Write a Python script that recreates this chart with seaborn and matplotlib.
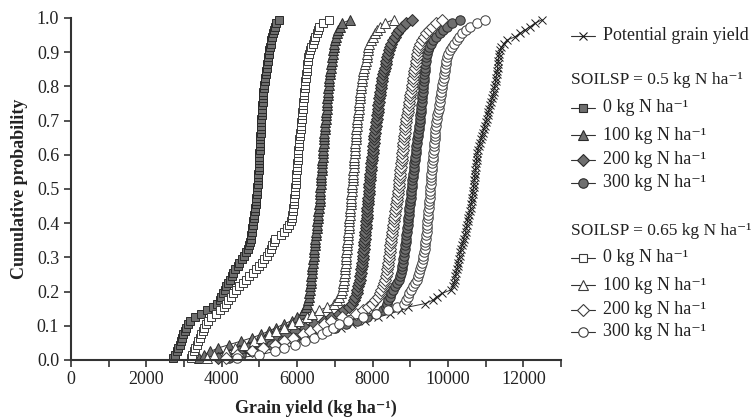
import numpy as np
import pandas as pd
import matplotlib
matplotlib.use("Agg")
import matplotlib.pyplot as plt
from matplotlib.lines import Line2D
from matplotlib.ticker import MultipleLocator, FormatStrFormatter
import seaborn as sns

sns.set_theme(style="ticks")
plt.rcParams['font.family'] = ['Liberation Serif', 'DejaVu Serif']

# ---- data: simulated grain yields (kg/ha), sorted, one value per ranked year ----
potential = [4000, 4350, 4700, 5050, 5400, 5750, 6100, 6450, 6800, 7150,
             7450, 7800, 8150, 8450, 8750, 8950, 9400, 9600, 9700, 9850,
             10080, 10130, 10160, 10180, 10200, 10220, 10240, 10260, 10275, 10290,
             10310, 10330, 10350, 10375, 10400, 10425, 10450, 10470, 10490, 10505,
             10520, 10540, 10560, 10580, 10600, 10615, 10630, 10645, 10660, 10670,
             10680, 10690, 10700, 10710, 10720, 10730, 10740, 10750, 10760, 10770,
             10780, 10800, 10825, 10850, 10875, 10900, 10925, 10950, 10975, 11000,
             11025, 11050, 11075, 11100, 11125, 11150, 11175, 11195, 11215, 11235,
             11250, 11265, 11280, 11295, 11310, 11320, 11330, 11340, 11350, 11360,
             11380, 11420, 11480, 11560, 11780, 11900, 12050, 12180, 12320, 12500]

s05_n0 = [2700, 2760, 2800, 2830, 2880, 2920, 2950, 2980, 3020, 3060,
          3100, 3150, 3290, 3450, 3620, 3780, 3870, 3940, 3990, 4040,
          4080, 4120, 4170, 4220, 4260, 4300, 4360, 4420, 4470, 4530,
          4580, 4630, 4690, 4730, 4750, 4765, 4780, 4795, 4810, 4825,
          4840, 4855, 4865, 4875, 4885, 4895, 4905, 4915, 4925, 4935,
          4945, 4955, 4960, 4965, 4970, 4975, 4980, 4985, 4990, 4995,
          5000, 5005, 5010, 5015, 5020, 5025, 5030, 5035, 5040, 5045,
          5050, 5055, 5062, 5070, 5078, 5085, 5092, 5100, 5107, 5115,
          5125, 5140, 5155, 5170, 5185, 5200, 5212, 5225, 5238, 5250,
          5262, 5275, 5295, 5315, 5335, 5355, 5375, 5400, 5450, 5520]

s05_n100 = [3400, 3520, 3700, 3900, 4200, 4500, 4800, 5050, 5250, 5450,
            5650, 5850, 6000, 6120, 6190, 6240, 6270, 6290, 6305, 6320,
            6335, 6345, 6355, 6365, 6375, 6385, 6395, 6405, 6415, 6425,
            6435, 6445, 6455, 6465, 6475, 6485, 6495, 6505, 6515, 6525,
            6535, 6545, 6555, 6565, 6575, 6585, 6595, 6600, 6605, 6610,
            6615, 6620, 6627, 6634, 6641, 6648, 6655, 6662, 6669, 6676,
            6683, 6690, 6697, 6704, 6711, 6718, 6725, 6732, 6740, 6748,
            6756, 6764, 6772, 6780, 6788, 6796, 6804, 6812, 6820, 6828,
            6836, 6844, 6852, 6862, 6875, 6890, 6905, 6920, 6935, 6950,
            6962, 6975, 6990, 7010, 7035, 7060, 7090, 7130, 7200, 7410]

s05_n200 = [3900, 4150, 4450, 4700, 4950, 5250, 5500, 5700, 5950, 6200,
            6450, 6700, 6900, 7100, 7250, 7380, 7450, 7500, 7540, 7575,
            7600, 7625, 7645, 7660, 7675, 7688, 7700, 7712, 7724, 7736,
            7748, 7758, 7768, 7776, 7784, 7792, 7800, 7808, 7816, 7824,
            7832, 7840, 7848, 7856, 7864, 7872, 7880, 7887, 7894, 7901,
            7908, 7916, 7924, 7932, 7940, 7950, 7960, 7970, 7980, 7990,
            8000, 8010, 8020, 8030, 8040, 8050, 8060, 8072, 8084, 8096,
            8108, 8120, 8132, 8144, 8156, 8168, 8180, 8192, 8204, 8216,
            8228, 8240, 8260, 8280, 8300, 8320, 8345, 8370, 8390, 8410,
            8430, 8450, 8480, 8530, 8590, 8650, 8710, 8780, 8880, 9040]

s05_n300 = [4200, 4500, 4800, 5050, 5300, 5600, 5950, 6300, 6650, 7000,
            7300, 7600, 7850, 8100, 8280, 8350, 8385, 8420, 8450, 8490,
            8540, 8600, 8650, 8695, 8730, 8755, 8775, 8790, 8805, 8820,
            8832, 8844, 8856, 8868, 8880, 8890, 8900, 8910, 8920, 8930,
            8940, 8950, 8960, 8970, 8980, 8990, 9000, 9010, 9020, 9030,
            9040, 9050, 9060, 9070, 9080, 9090, 9100, 9110, 9120, 9130,
            9140, 9150, 9162, 9174, 9186, 9198, 9210, 9222, 9234, 9246,
            9255, 9264, 9273, 9282, 9291, 9300, 9310, 9320, 9330, 9340,
            9348, 9356, 9364, 9372, 9380, 9390, 9400, 9412, 9425, 9440,
            9465, 9500, 9550, 9610, 9690, 9780, 9880, 9980, 10120, 10320]

s065_n0 = [3180, 3220, 3250, 3290, 3340, 3380, 3420, 3460, 3500, 3540,
           3580, 3630, 3720, 3860, 3960, 4060, 4110, 4160, 4240, 4310,
           4390, 4470, 4550, 4640, 4730, 4820, 4910, 5000, 5060, 5130,
           5200, 5260, 5300, 5340, 5380, 5420, 5560, 5660, 5740, 5790,
           5825, 5850, 5865, 5880, 5895, 5905, 5915, 5925, 5935, 5942,
           5950, 5957, 5965, 5972, 5980, 5987, 5995, 6002, 6010, 6018,
           6026, 6034, 6042, 6050, 6060, 6070, 6080, 6090, 6100, 6110,
           6118, 6126, 6134, 6142, 6150, 6160, 6170, 6180, 6190, 6200,
           6210, 6220, 6230, 6240, 6250, 6260, 6270, 6280, 6295, 6310,
           6340, 6370, 6410, 6450, 6485, 6520, 6555, 6590, 6680, 6850]

s065_n100 = [3600, 3800, 4100, 4350, 4600, 4850, 5050, 5250, 5450, 5650,
             5850, 6050, 6250, 6400, 6580, 6800, 6980, 7070, 7110, 7150,
             7180, 7205, 7225, 7240, 7250, 7260, 7268, 7276, 7284, 7292,
             7300, 7308, 7316, 7324, 7332, 7340, 7348, 7356, 7364, 7372,
             7380, 7388, 7396, 7404, 7412, 7420, 7427, 7434, 7441, 7448,
             7455, 7462, 7469, 7476, 7483, 7490, 7497, 7504, 7511, 7518,
             7525, 7532, 7539, 7546, 7553, 7560, 7567, 7574, 7581, 7590,
             7600, 7610, 7620, 7630, 7640, 7650, 7660, 7670, 7680, 7690,
             7700, 7710, 7722, 7740, 7760, 7780, 7800, 7820, 7840, 7860,
             7875, 7890, 7910, 7950, 8000, 8060, 8120, 8190, 8320, 8560]

s065_n200 = [4100, 4400, 4800, 5100, 5400, 5650, 5900, 6150, 6350, 6550,
             6700, 6900, 7200, 7550, 7750, 7880, 7980, 8060, 8140, 8190,
             8230, 8270, 8310, 8340, 8365, 8380, 8392, 8404, 8416, 8428,
             8440, 8452, 8464, 8476, 8488, 8500, 8513, 8526, 8539, 8552,
             8565, 8578, 8591, 8604, 8617, 8630, 8643, 8656, 8669, 8680,
             8690, 8700, 8710, 8720, 8730, 8740, 8750, 8760, 8770, 8780,
             8790, 8800, 8810, 8820, 8830, 8840, 8850, 8860, 8872, 8885,
             8900, 8915, 8930, 8945, 8960, 8975, 8990, 9005, 9020, 9035,
             9050, 9065, 9080, 9095, 9110, 9125, 9140, 9155, 9170, 9190,
             9210, 9230, 9255, 9300, 9360, 9420, 9490, 9570, 9680, 9850]

s065_n300 = [4400, 5000, 5400, 5650, 5950, 6200, 6450, 6650, 6800, 6950,
             7100, 7350, 7750, 8100, 8400, 8650, 8830, 8890, 8940, 8980,
             9030, 9080, 9130, 9170, 9205, 9240, 9265, 9290, 9310, 9330,
             9348, 9365, 9380, 9392, 9404, 9414, 9424, 9433, 9442, 9450,
             9458, 9466, 9474, 9482, 9490, 9498, 9505, 9512, 9519, 9526,
             9533, 9540, 9548, 9556, 9564, 9572, 9580, 9588, 9596, 9604,
             9612, 9620, 9628, 9636, 9644, 9652, 9660, 9670, 9680, 9692,
             9705, 9720, 9735, 9750, 9765, 9780, 9795, 9810, 9825, 9840,
             9855, 9870, 9885, 9900, 9915, 9930, 9945, 9960, 9980, 10010,
             10050, 10100, 10160, 10230, 10300, 10380, 10470, 10580, 10760, 10990]

SUP = "\u207b\u00b9"
legend_labels = ["Potential grain yield",
                 "0 kg N ha" + SUP, "100 kg N ha" + SUP,
                 "200 kg N ha" + SUP, "300 kg N ha" + SUP]
group_titles = ["SOILSP = 0.5 kg N ha" + SUP, "SOILSP = 0.65 kg N ha" + SUP]
x_ticks = [0, 2000, 4000, 6000, 8000, 10000, 12000]


def cum_prob(values):
    # plotting position of each ranked value
    n = len(values)
    ranks = np.arange(1, n + 1)
    return (ranks - 0.5) / n


# ---- styles ----
FILL = "#6f6f6f"
EDGE_F = "#2a2a2a"
EDGE_O = "#3c3c3c"
LINE = "#333333"

series = [
    (potential, "x", "k", "k", 5.5),
    (s05_n0, "s", FILL, EDGE_F, 6.0),
    (s05_n100, "^", FILL, EDGE_F, 6.8),
    (s05_n200, "D", FILL, EDGE_F, 5.8),
    (s05_n300, "o", FILL, EDGE_F, 6.8),
    (s065_n0, "s", "white", EDGE_O, 6.0),
    (s065_n100, "^", "white", EDGE_O, 6.8),
    (s065_n200, "D", "white", EDGE_O, 5.8),
    (s065_n300, "o", "white", EDGE_O, 6.8),
]

W, H = 754, 417
fig = plt.figure(figsize=(W / 100, H / 100), dpi=100)
L, R, B, T = 71, 561, 360, 18
ax = fig.add_axes([L / W, 1 - B / H, (R - L) / W, (B - T) / H])

for vals, mk, fc, ec, ms in series:
    df = pd.DataFrame({"yield": vals, "prob": cum_prob(vals)})
    sns.lineplot(data=df, x="yield", y="prob", ax=ax, estimator=None, sort=False,
                 color=LINE, linewidth=0.7, marker=mk, markersize=ms,
                 markerfacecolor=fc, markeredgecolor=ec, markeredgewidth=0.7,
                 legend=False, clip_on=False)

ax.set_xlim(0, 13000)
ax.set_ylim(0, 1.0)
ax.set_xticks(x_ticks)
ax.xaxis.set_minor_locator(MultipleLocator(1000))
ax.yaxis.set_major_locator(MultipleLocator(0.1))
ax.yaxis.set_major_formatter(FormatStrFormatter("%.1f"))
ax.tick_params(axis="both", which="both", direction="out", length=5, width=1.2,
               color="#333333", labelsize=13, labelcolor="#222222")
ax.tick_params(axis="x", pad=3)
for s in ["top", "right"]:
    ax.spines[s].set_visible(False)
for s in ["left", "bottom"]:
    ax.spines[s].set_linewidth(1.5)
    ax.spines[s].set_color("#333333")
ax.grid(False)

ax.set_xlabel("Grain yield (kg ha" + SUP + ")", fontsize=13, fontweight="bold",
              color="#222222", labelpad=8)
ax.set_ylabel("Cumulative probability", fontsize=13, fontweight="bold",
              color="#222222", labelpad=6)

# ---- legend (manual, figure coordinates) ----
def fx(px):
    return px / W


def fy(py):
    return 1 - py / H


hx0, hx1, hxm, tx = 571, 595, 583, 603
rows = [(36, 0), (108, 1), (135, 2), (160, 3), (183, 4),
        (258, 5), (285, 6), (310, 7), (332, 8)]
labels_by_series = [legend_labels[0]] + legend_labels[1:] + legend_labels[1:]
for py, idx in rows:
    vals, mk, fc, ec, ms = series[idx]
    fig.add_artist(Line2D([fx(hx0), fx(hxm), fx(hx1)], [fy(py)] * 3,
                          transform=fig.transFigure, color=LINE, linewidth=0.8,
                          marker=mk, markevery=[1], markersize=ms, markerfacecolor=fc,
                          markeredgecolor=ec, markeredgewidth=0.8))
    fig.text(fx(tx), fy(py), labels_by_series[idx], fontsize=13, va="center", ha="left",
             color="#222222")
fig.text(fx(hx0), fy(80), group_titles[0], fontsize=12.5, va="center", ha="left", color="#222222")
fig.text(fx(hx0), fy(231), group_titles[1], fontsize=12.5, va="center", ha="left", color="#222222")

fig.savefig("out.png", dpi=100)
